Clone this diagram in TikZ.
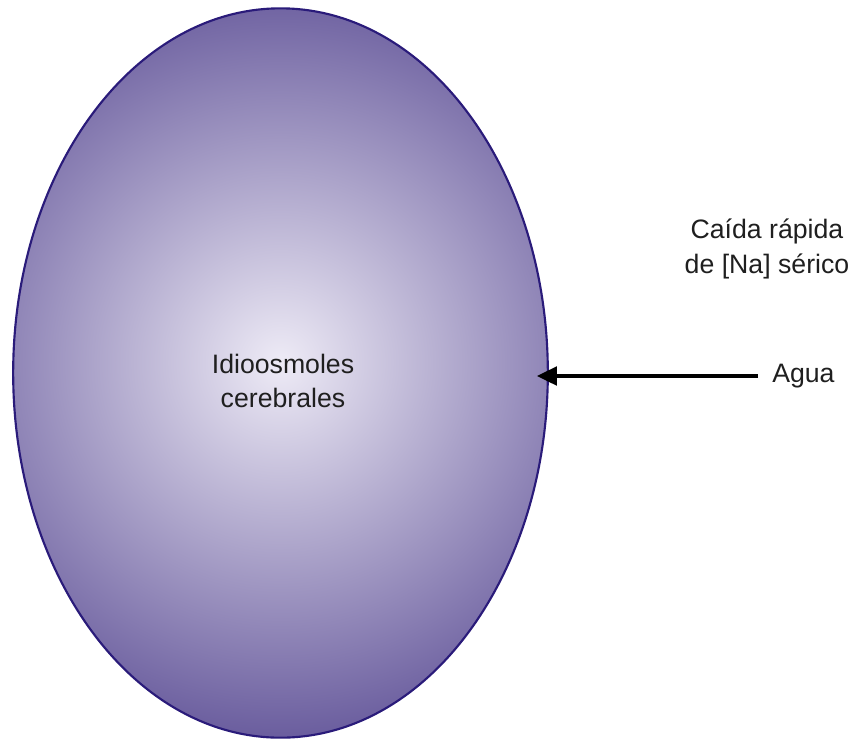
\documentclass[tikz,border=0pt]{standalone}
\usepackage{fontspec}
\setmainfont{Liberation Sans}
\usetikzlibrary{arrows.meta,positioning,shapes.geometric}
\definecolor{lavcenter}{HTML}{EEEBF6}
\definecolor{lavedge}{HTML}{6A5D9E}
\definecolor{lavrim}{HTML}{2A1B7A}
\tikzset{
  cell/.style = {draw=lavrim, line width=1.6pt, ellipse, inner sep=0pt,
                 minimum width=401pt, minimum height=547pt, align=center,
                 path picture={
                   \fill[lavedge] (path picture bounding box.south west)
                     rectangle (path picture bounding box.north east);
                   \shade[inner color=lavcenter, outer color=lavedge]
                     ([yshift=8pt]path picture bounding box.center) circle (282pt);}},
  lbl/.style  = {font=\fontsize{20}{26}\selectfont, align=center, text=black!88},
  sig/.style  = {-{Triangle[length=15pt, width=14pt]}, line width=2.4pt,
                 shorten >=-9pt},
}
\begin{document}
\begin{tikzpicture}[x=0.75pt, y=-0.75pt]
\useasboundingbox (0,0) rectangle (854,740);
\node[cell] (cell) at (280.5,373) {};
\node[lbl] (idio) at (283,381) {Idioosmoles\\cerebrales};
\node[lbl, anchor=west, inner sep=10.5pt] (agua) at (758,376) {Agua};
\node[lbl] (caida) at (767,249) {Caída rápida\\de [Na] sérico};
\draw[sig] (agua.west) -- (agua.west -| cell.east);
\end{tikzpicture}
\end{document}
